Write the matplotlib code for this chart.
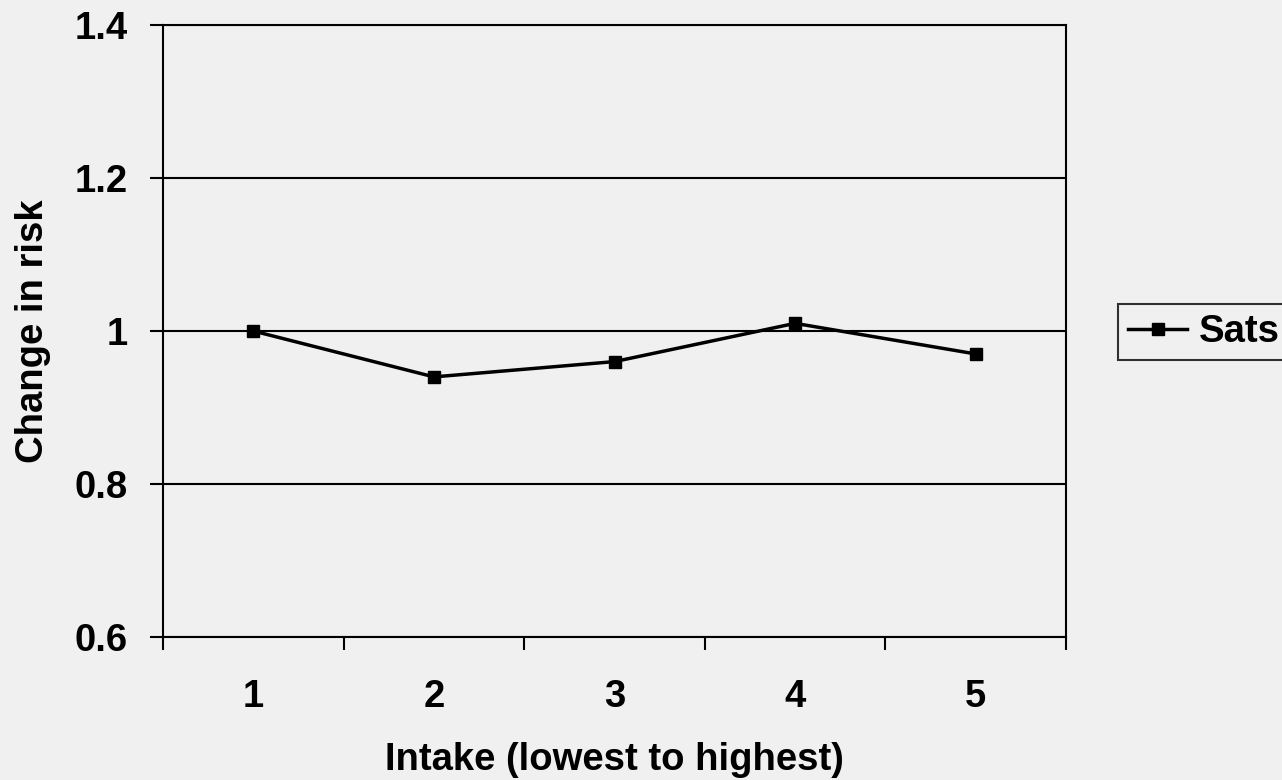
import numpy as np
import matplotlib.pyplot as plt

# Data
categories = ['1', '2', '3', '4', '5']
sats = [1.00, 0.94, 0.96, 1.01, 0.97]
y_ticks = [0.6, 0.8, 1.0, 1.2, 1.4]
y_tick_labels = ['0.6', '0.8', '1', '1.2', '1.4']

bg = '#f0f0f0'
fs = 27.5
plt.rcParams['font.family'] = ['Liberation Sans', 'DejaVu Sans']
plt.rcParams['font.weight'] = 'bold'

fig = plt.figure(figsize=(12.82, 7.8), dpi=100, facecolor=bg)
ax = fig.add_axes([163 / 1282, 1 - 637 / 780, (1066 - 163) / 1282, (637 - 25) / 780])
ax.set_facecolor(bg)

x = np.arange(len(categories))
line, = ax.plot(x, sats, color='black', linewidth=2.5, marker='s',
                markersize=8.5, label='Sats', zorder=3, clip_on=False)

ax.set_xlim(-0.5, len(categories) - 0.5)
ax.set_ylim(0.6, 1.4)
ax.set_yticks(y_ticks)
ax.set_yticklabels(y_tick_labels, fontsize=fs, fontweight='bold')
ax.yaxis.grid(True, color='black', linewidth=1.5)
ax.set_axisbelow(True)

# category ticks sit between categories, labels centred on them
ax.set_xticks(np.arange(-0.5, len(categories), 1.0))
ax.set_xticklabels([])
ax.set_xticks(x, minor=True)
ax.set_xticklabels(categories, minor=True, fontsize=fs, fontweight='bold')
ax.tick_params(axis='x', which='major', direction='out', length=9.5, width=1.5)
ax.tick_params(axis='x', which='minor', length=0, pad=30)
ax.tick_params(axis='y', direction='out', length=9.5, width=1.5, pad=16)

for s in ax.spines.values():
    s.set_linewidth(1.5)
    s.set_color('black')

ax.set_xlabel('Intake (lowest to highest)', fontsize=fs, fontweight='bold', labelpad=20)
ax.set_ylabel('Change in risk', fontsize=fs, fontweight='bold')
ax.yaxis.set_label_coords((51 - 163) / 903, 0.5)

leg = fig.legend(handles=[line], loc='center left',
                 bbox_to_anchor=(1118 / 1282, 1 - 332 / 780),
                 fontsize=fs, frameon=True, fancybox=False,
                 edgecolor='black', facecolor=bg, handlelength=1.55,
                 handletextpad=0.3, borderpad=0.26, borderaxespad=0)
leg.get_frame().set_linewidth(1.5)
leg.get_texts()[0].set_fontweight('bold')

fig.savefig('out.png', dpi=100, facecolor=bg)
